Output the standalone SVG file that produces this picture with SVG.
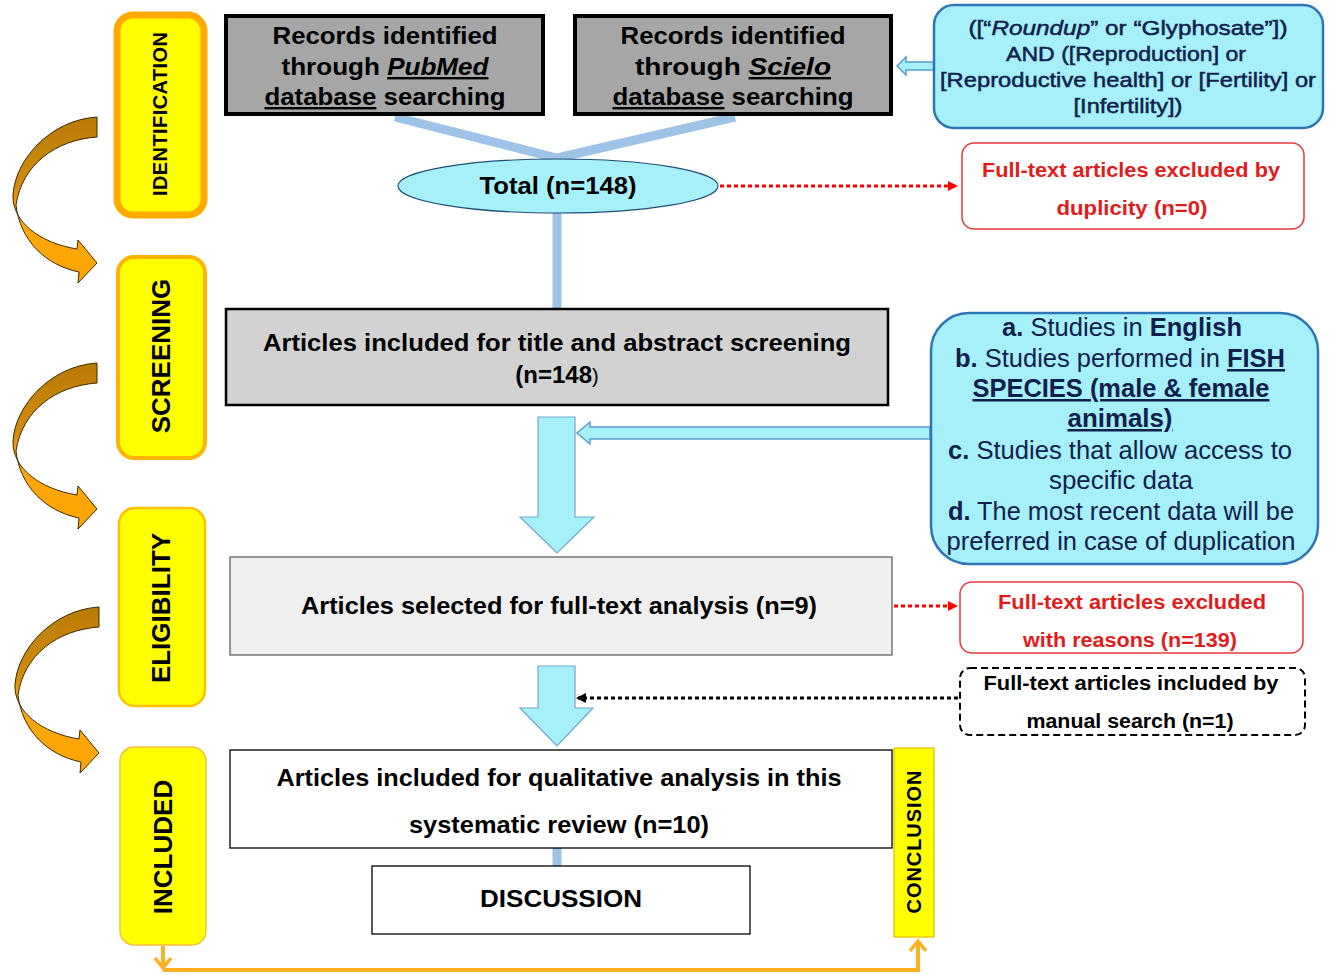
<svg xmlns="http://www.w3.org/2000/svg" width="1333" height="975" viewBox="0 0 1333 975">
<style>
text{font-family:"Liberation Sans",Arial,sans-serif;}
.b{font-weight:bold;}
.stage{fill:#FFFF00;}
.lbl{font-weight:bold;font-size:26px;fill:#000;text-anchor:middle;}
.gbox{fill:#A6A6A6;stroke:#000;stroke-width:4;}
.t24{font-size:24px;font-weight:bold;fill:#000;text-anchor:middle;}
.cyan{fill:#A6F0FA;stroke:#2E75B6;stroke-width:2.5;}
.navy{fill:#10204A;text-anchor:middle;}
.red{fill:#E31B1B;font-size:20px;font-weight:bold;text-anchor:middle;}
.redbox{fill:#fff;stroke:#E8383D;stroke-width:1.5;}
.blue{stroke:#9DC3E6;stroke-width:9;fill:none;}
.blk{font-size:20px;font-weight:bold;fill:#000;text-anchor:middle;}
</style>
<defs>
<linearGradient id="curveG" x1="0" y1="0" x2="0" y2="1">
<stop offset="0" stop-color="#B97A06"/>
<stop offset="0.42" stop-color="#D08C0C"/>
<stop offset="0.55" stop-color="#FFA610"/>
<stop offset="1" stop-color="#FFA500"/>
</linearGradient>
<path id="curve" d="M97,117 C50,120 15,160 13,195 C12,222 40,243 77,249 L78,240 L97,263 L78,283 L79,272 C45,265 20,240 16,205 C22,165 55,140 97,137 Z" fill="url(#curveG)" stroke="#3A2A00" stroke-width="1"/>
<marker id="redHead" markerWidth="10" markerHeight="10" refX="8" refY="5" orient="auto" markerUnits="userSpaceOnUse">
<path d="M0,0 L10,5 L0,10 Z" fill="#FF0000"/>
</marker>
<marker id="blkHead" markerWidth="10" markerHeight="10" refX="8" refY="5" orient="auto" markerUnits="userSpaceOnUse">
<path d="M0,0 L10,5 L0,10 Z" fill="#000"/>
</marker>
<marker id="chev" markerWidth="16" markerHeight="18" refX="12" refY="9" orient="auto" markerUnits="userSpaceOnUse">
<path d="M2,1 L12,9 L2,17" fill="none" stroke="#FFB020" stroke-width="3.5"/>
</marker>
</defs>

<g id="stage-curves">
<use href="#curve"/>
<use href="#curve" transform="translate(0,246)"/>
<use href="#curve" transform="translate(2,490)"/>
</g>

<g id="identification">
<rect x="117" y="15" width="87" height="200" rx="16" class="stage" stroke="#FFAA00" stroke-width="7"/>
<text class="b" font-size="20" text-anchor="middle" transform="translate(167,114) rotate(-90)" textLength="164" lengthAdjust="spacing">IDENTIFICATION</text>
</g>
<g id="screening">
<rect x="118" y="257" width="87" height="201" rx="16" class="stage" stroke="#FFB300" stroke-width="4"/>
<text class="lbl" transform="translate(170,356) rotate(-90)">SCREENING</text>
</g>
<g id="eligibility">
<rect x="119" y="508" width="86" height="198" rx="16" class="stage" stroke="#FFC000" stroke-width="2.5"/>
<text class="lbl" transform="translate(170,608) rotate(-90)">ELIGIBILITY</text>
</g>
<g id="included">
<rect x="120" y="747" width="86" height="198" rx="14" class="stage" stroke="#F2C040" stroke-width="1.5"/>
<text class="lbl" transform="translate(172,847) rotate(-90)">INCLUDED</text>
</g>

<g id="connectors">
<path class="blue" d="M395,117 L557,158 L735,117"/>
<line class="blue" x1="557" y1="212" x2="557" y2="308"/>
<line class="blue" x1="557" y1="848" x2="557" y2="866" stroke-width="8"/>
<path d="M720,186 L956,186" stroke="#FF0000" stroke-width="3" stroke-dasharray="4 3" fill="none" marker-end="url(#redHead)"/>
<path d="M894,606 L956,606" stroke="#FF0000" stroke-width="3" stroke-dasharray="4 3" fill="none" marker-end="url(#redHead)"/>
<path d="M958,698 L578,698" stroke="#000" stroke-width="3" stroke-dasharray="4 3" fill="none" marker-end="url(#blkHead)"/>
<path d="M933,62 L906,62 L906,57 L897,66 L906,75 L906,70 L933,70" fill="#A6F0FA" stroke="#5B9BD5" stroke-width="1.5"/>
<path d="M930,427 L590,427 L590,422 L577,433 L590,444 L590,439 L930,439 Z" fill="#A6F0FA" stroke="#5B9BD5" stroke-width="1.5"/>
<path d="M538,417 L575,417 L575,517 L594,517 L557,553 L520,517 L538,517 Z" fill="#A6F0FA" stroke="#6FA8C8" stroke-width="1.2"/>
<path d="M538,666 L575,666 L575,708 L593,708 L557,746 L520,708 L538,708 Z" fill="#A6F0FA" stroke="#6FA8C8" stroke-width="1.2"/>
<path d="M163,946 L163,968" stroke="#FFB020" stroke-width="4" fill="none" marker-end="url(#chev)"/>
<path d="M163,970 L918,970 L918,941" stroke="#FFB020" stroke-width="4" fill="none" marker-end="url(#chev)"/>
</g>

<g id="pubmed">
<rect x="226" y="16" width="317" height="98" class="gbox"/>
<text class="t24" font-size="26" x="385" y="44" textLength="225" lengthAdjust="spacingAndGlyphs">Records identified</text>
<text class="t24" font-size="26" x="385" y="75" textLength="207" lengthAdjust="spacingAndGlyphs">through <tspan font-style="italic" text-decoration="underline">PubMed</tspan></text>
<text class="t24" font-size="26" x="385" y="105" textLength="241" lengthAdjust="spacingAndGlyphs"><tspan text-decoration="underline">database</tspan> searching</text>
</g>
<g id="scielo">
<rect x="575" y="16" width="316" height="98" class="gbox"/>
<text class="t24" font-size="26" x="733" y="44" textLength="225" lengthAdjust="spacingAndGlyphs">Records identified</text>
<text class="t24" font-size="26" x="733" y="75" textLength="196" lengthAdjust="spacingAndGlyphs">through <tspan font-style="italic" text-decoration="underline">Scielo</tspan></text>
<text class="t24" font-size="26" x="733" y="105" textLength="241" lengthAdjust="spacingAndGlyphs"><tspan text-decoration="underline">database</tspan> searching</text>
</g>
<g id="query">
<rect x="934" y="5" width="389" height="123" rx="20" class="cyan"/>
<text class="navy" font-size="21" x="1128" y="35" textLength="319" lengthAdjust="spacingAndGlyphs" stroke="#10204A" stroke-width="0.5">([“<tspan font-style="italic">Roundup</tspan>” or “Glyphosate”])</text>
<text class="navy" font-size="21" x="1126" y="61" textLength="240" lengthAdjust="spacingAndGlyphs" stroke="#10204A" stroke-width="0.5">AND ([Reproduction] or</text>
<text class="navy" font-size="21" x="1128" y="87" textLength="376" lengthAdjust="spacingAndGlyphs" stroke="#10204A" stroke-width="0.5">[Reproductive health] or [Fertility]  or</text>
<text class="navy" font-size="21" x="1128" y="113" textLength="109" lengthAdjust="spacingAndGlyphs" stroke="#10204A" stroke-width="0.5">[Infertility])</text>
</g>
<g id="total">
<ellipse cx="558" cy="186" rx="160" ry="27" fill="#A6F0FA" stroke="#1F4E79" stroke-width="1.2"/>
<text class="t24" x="558" y="194" textLength="157" lengthAdjust="spacingAndGlyphs">Total (n=148)</text>
</g>
<g id="dup">
<rect x="962" y="143" width="342" height="86" rx="12" class="redbox"/>
<text class="red" x="1131" y="177" textLength="298" lengthAdjust="spacingAndGlyphs">Full-text articles excluded by</text>
<text class="red" x="1132" y="215" textLength="151" lengthAdjust="spacingAndGlyphs">duplicity  (n=0)</text>
</g>
<g id="screen-box">
<rect x="226" y="309" width="662" height="96" fill="#D2D2D2" stroke="#000" stroke-width="2.5"/>
<text class="t24" x="557" y="351" textLength="588" lengthAdjust="spacingAndGlyphs">Articles included for title and abstract screening</text>
<text class="t24" x="557" y="383">(n=148<tspan font-weight="normal" font-size="20">)</tspan></text>
</g>
<g id="criteria">
<rect x="931" y="313" width="387" height="251" rx="38" class="cyan"/>
<text class="navy" font-size="25" x="1122" y="336" textLength="240" lengthAdjust="spacingAndGlyphs"><tspan class="b">a.</tspan> Studies in <tspan class="b">English</tspan></text>
<text class="navy" font-size="25" x="1120" y="367" textLength="330" lengthAdjust="spacingAndGlyphs"><tspan class="b">b.</tspan> Studies performed in <tspan class="b" text-decoration="underline">FISH</tspan></text>
<text class="navy b" font-size="25" x="1121" y="397" text-decoration="underline" textLength="297" lengthAdjust="spacingAndGlyphs">SPECIES (male &amp; female</text>
<text class="navy b" font-size="25" x="1120" y="427" text-decoration="underline" textLength="105" lengthAdjust="spacingAndGlyphs">animals)</text>
<text class="navy" font-size="25" x="1120" y="459" textLength="344" lengthAdjust="spacingAndGlyphs"><tspan class="b">c.</tspan> Studies that allow access to</text>
<text class="navy" font-size="25" x="1121" y="489" textLength="144" lengthAdjust="spacingAndGlyphs">specific data</text>
<text class="navy" font-size="25" x="1121" y="520" textLength="346" lengthAdjust="spacingAndGlyphs"><tspan class="b">d.</tspan> The most recent data will be</text>
<text class="navy" font-size="25" x="1121" y="550" textLength="349" lengthAdjust="spacingAndGlyphs">preferred in case of duplication</text>
</g>
<g id="fulltext">
<rect x="230" y="557" width="662" height="98" fill="#EFEFEF" stroke="#555" stroke-width="1.2"/>
<text class="t24" x="559" y="614" textLength="516" lengthAdjust="spacingAndGlyphs">Articles selected for full-text analysis (n=9)</text>
</g>
<g id="excluded">
<rect x="960" y="582" width="343" height="71" rx="12" class="redbox"/>
<text class="red" x="1132" y="609" textLength="268" lengthAdjust="spacingAndGlyphs">Full-text articles excluded</text>
<text class="red" x="1130" y="647" textLength="214" lengthAdjust="spacingAndGlyphs">with reasons (n=139)</text>
</g>
<g id="manual">
<rect x="960" y="668" width="345" height="67" rx="10" fill="#fff" stroke="#000" stroke-width="2" stroke-dasharray="7 4"/>
<text class="blk" x="1131" y="690" textLength="295" lengthAdjust="spacingAndGlyphs">Full-text articles included by</text>
<text class="blk" x="1130" y="728" textLength="207" lengthAdjust="spacingAndGlyphs">manual search (n=1)</text>
</g>
<g id="qualitative">
<rect x="230" y="750" width="662" height="98" fill="#fff" stroke="#000" stroke-width="1.3"/>
<text class="t24" x="559" y="786" textLength="565" lengthAdjust="spacingAndGlyphs">Articles included for qualitative analysis in this</text>
<text class="t24" x="559" y="833" textLength="300" lengthAdjust="spacingAndGlyphs">systematic review (n=10)</text>
</g>
<g id="discussion">
<rect x="372" y="866" width="378" height="68" fill="#fff" stroke="#000" stroke-width="1.3"/>
<text class="t24" x="561" y="907" textLength="162" lengthAdjust="spacingAndGlyphs">DISCUSSION</text>
</g>
<g id="conclusion">
<rect x="894" y="748" width="40" height="189" fill="#FFFF00" stroke="#E8C000" stroke-width="1.3"/>
<text class="b" font-size="20" text-anchor="middle" transform="translate(921,842) rotate(-90)" textLength="143" lengthAdjust="spacing">CONCLUSION</text>
</g>
</svg>
